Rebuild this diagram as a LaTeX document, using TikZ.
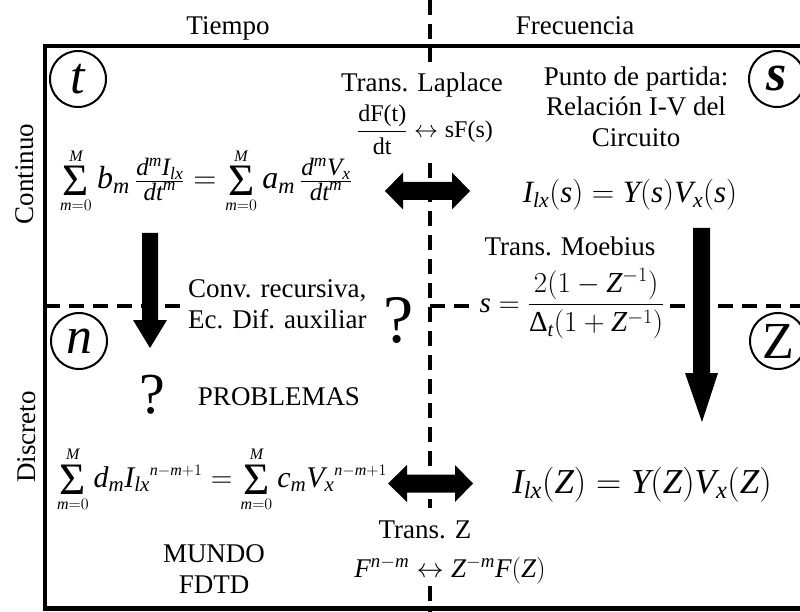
\RequirePackage{fix-cm}
\documentclass[tikz,border=0pt]{standalone}
\usepackage{amsmath}
\usepackage{fontspec}
\setmainfont{Liberation Serif}
\DeclareSymbolFont{letters}{TU}{\rmdefault}{m}{it}
\newcommand\fsz[2]{\hbox{\fontsize{#1}{#1}\selectfont$#2$}}
\newcommand\bigsum[2]{\mathop{\vcenter{\hbox{\fontsize{45}{45}\selectfont Σ}}}\limits_{\fsz{16}{#1}}^{\fsz{16}{#2}}}
\newcommand\medfrac[2]{\frac{\fsz{25}{#1}}{\fsz{25}{#2}}}
\begin{document}
\begin{tikzpicture}[x=1pt,y=-1pt,
  txt/.style={font=\fontsize{27}{30}\selectfont, inner sep=0pt, anchor=base},
  eqa/.style={font=\fontsize{32}{38}\selectfont, inner sep=0pt, anchor=base},
  eqd/.style={font=\fontsize{30}{36}\selectfont, inner sep=0pt, anchor=base},
  eqb/.style={font=\fontsize{31}{36}\selectfont, inner sep=0pt, anchor=base},
  eqc/.style={font=\fontsize{35}{40}\selectfont, inner sep=0pt, anchor=base},
  eqs/.style={font=\fontsize{24}{28}\selectfont, inner sep=0pt, anchor=base},
  eqm/.style={font=\fontsize{29}{34}\selectfont, inner sep=2pt, anchor=base, fill=white},
  qm/.style={inner sep=0pt, anchor=base},
  framebox/.style={line width=4.5pt},
  divider/.style={line width=3.5pt, dash pattern=on 15pt off 9pt},
  ring/.style={draw, circle, line width=2pt, minimum size=56pt, inner sep=0pt, font=\fontsize{52}{52}\selectfont},
  blockarrow/.style={fill=black}
]
\useasboundingbox (0,0) rectangle (800,612);
% frame
\draw[framebox] (800,46) -- (45,46) -- (45,608.5) -- (800,608.5);
% dashed dividers
\draw[divider] (430,0) -- (430,62);
\draw[divider] (430,163) -- (430,508);
\draw[divider] (430,586) -- (430,612);
\draw[divider] (45,306) -- (182,306);
\draw[divider] (430,306) -- (800,306);
% axis labels
\node[txt] (tiempo) at (228,35) {Tiempo};
\node[txt] (frec) at (575,35) {Frecuencia};
\node[txt, rotate=90] (cont) at (33,174) {Continuo};
\node[txt, rotate=90] (disc) at (35,437) {Discreto};
% circles
\node[ring] (ct) at (78,79) {$t$};
\node[ring] (cs) at (777,79) {\bfseries\itshape s};
\node[ring] (cn) at (79,341) {$n$};
\node[ring] (cz) at (778,341) {Z};
% top left equation
\node[eqa] (eqtl) at (206,189) {$\bigsum{m{=}0}{M} b_m\, \medfrac{d^m I_{lx}}{dt^m} = \bigsum{m{=}0}{M} a_m\, \medfrac{d^m V_x}{dt^m}$};
% top right equation
\node[eqb] (eqtr) at (630,203) {$I_{lx}(s) = Y(s)V_x(s)$};
% Laplace
\node[txt] (lap) at (422,92) {Trans. Laplace};
\node[eqs] (lapf) at (425,138) {$\dfrac{\text{dF(t)}}{\text{dt}} \leftrightarrow \text{sF(s)}$};
% Punto de partida
\node[txt] (p1) at (636,86) {Punto de partida:};
\node[txt] (p2) at (636,116) {Relación I-V del};
\node[txt] (p3) at (636,147) {Circuito};
% Moebius
\node[txt] (moe) at (570,255) {Trans. Moebius};
\node[eqm] (moef) at (572,312) {$s=\dfrac{2(1-Z^{-1})}{\text{Δ}_t(1+Z^{-1})}$};
% conv recursiva
\node[txt, anchor=base west] (conv1) at (188,297) {Conv. recursiva,};
\node[txt, anchor=base west] (conv2) at (188,328) {Ec. Dif. auxiliar};
\node[qm, font=\fontsize{68}{68}\selectfont] (q1) at (399,342) {?};
\node[qm, font=\fontsize{58}{58}\selectfont] (q2) at (152,413) {?};
\node[txt] (prob) at (279,405) {PROBLEMAS};
% bottom left equation
\node[eqd] (eqbl) at (222,487) {$\bigsum{m{=}0}{M} d_m {I_{lx}}^{\fsz{16}{n{-}m{+}1}} = \bigsum{m{=}0}{M} c_m {V_x}^{\fsz{16}{n{-}m{+}1}}$};
% bottom right equation
\node[eqc] (eqbr) at (642,493) {$I_{lx}(Z) = Y(Z)V_x(Z)$};
% Trans Z
\node[txt] (tz) at (425,538) {Trans. Z};
\node[txt] (tzf) at (450,577) {$F^{n-m} \leftrightarrow Z^{-m}F(Z)$};
\node[txt] (m1) at (214,562) {MUNDO};
\node[txt] (m2) at (214,593) {FDTD};
% block arrows
\fill[blockarrow] (142,233) -- (158,233) -- (158,320) -- (167,320) -- (150,348) -- (133,320) -- (142,320) -- cycle;
\fill[blockarrow] (693,228) -- (710,228) -- (710,373) -- (718,373) -- (702,422) -- (685,373) -- (693,373) -- cycle;
\fill[blockarrow] (385,191) -- (403,172.5) -- (403,182) -- (452,182) -- (452,172.5) -- (470,191) -- (452,209.5) -- (452,200) -- (403,200) -- (403,209.5) -- cycle;
\fill[blockarrow] (388,483.5) -- (407,465) -- (407,474.5) -- (455,474.5) -- (455,465) -- (473,483.5) -- (455,502) -- (455,492.5) -- (407,492.5) -- (407,502) -- cycle;
\end{tikzpicture}
\end{document}
